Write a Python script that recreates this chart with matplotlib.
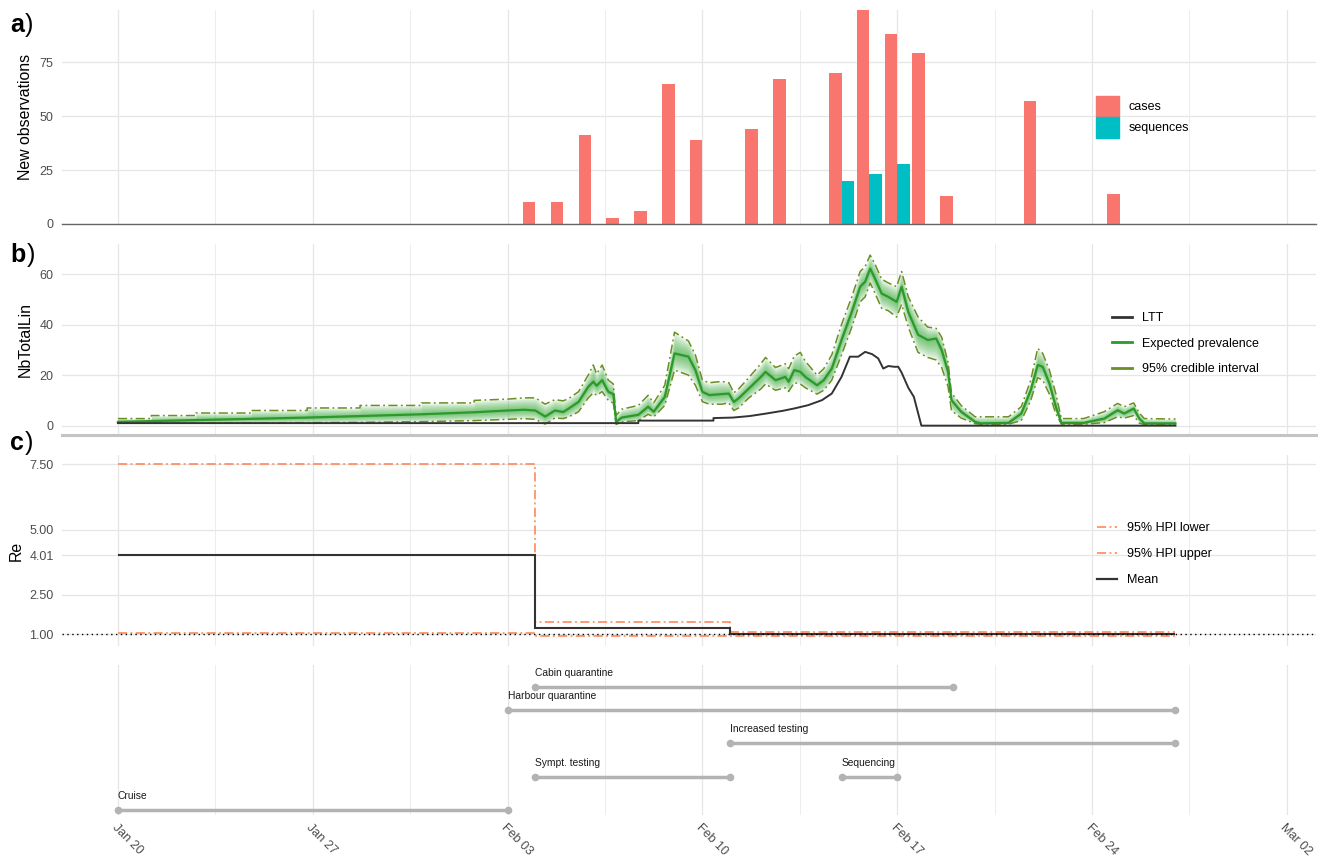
import numpy as np
import pandas as pd
import matplotlib
matplotlib.use("Agg")
import matplotlib.pyplot as plt
from matplotlib.patches import Patch
from matplotlib.lines import Line2D

plt.rcParams["font.family"] = ["Liberation Sans", "DejaVu Sans"]

T0 = pd.Timestamp("2020-01-20")


def days(dates):
    """Dates -> days since Jan 20."""
    return ((pd.to_datetime(dates) - T0) / pd.Timedelta(days=1)).to_numpy()


# ── a) new observations per day ─────────────────────────────────────────────
case_dates = ["2020-02-04", "2020-02-05", "2020-02-06", "2020-02-07", "2020-02-08",
              "2020-02-09", "2020-02-10", "2020-02-12", "2020-02-13", "2020-02-15",
              "2020-02-16", "2020-02-17", "2020-02-18", "2020-02-19", "2020-02-22",
              "2020-02-25"]
case_counts = [10, 10, 41, 3, 6, 65, 39, 44, 67, 70, 99, 88, 79, 13, 57, 14]
seq_dates = ["2020-02-15", "2020-02-16", "2020-02-17"]
seq_counts = [20, 23, 28]

# ── b) prevalence trajectory (days since Jan 20) ────────────────────────────
prev_t = [0.0, 1.2, 1.2, 2.8, 2.8, 4.8, 4.8, 6.8, 6.8, 8.7, 8.7, 10.9, 10.9, 12.8, 12.8,
          14.0, 14.6, 15.0, 15.35, 15.7, 16.0, 16.2, 16.55, 16.9, 17.08, 17.2, 17.4,
          17.62, 17.8, 17.9, 18.1, 18.7, 19.05, 19.25, 19.65, 20.0, 20.5, 20.75, 21.0,
          21.25, 21.7, 21.95, 22.13, 22.3, 22.67, 23.1, 23.27, 23.63, 23.98, 24.1, 24.3,
          24.52, 24.7, 25.12, 25.36, 25.65, 26.0, 26.37, 26.67, 26.85, 27.03, 27.2,
          27.44, 27.68, 27.98, 28.16, 28.4, 28.75, 29.1, 29.4, 29.6, 29.83, 29.95, 30.3,
          30.8, 31.0, 32.0, 32.46, 32.8, 33.05, 33.23, 33.47, 33.7, 33.9, 34.7, 35.44,
          35.92, 36.16, 36.5, 36.7, 36.88, 38.0]
prev_mean = [1.5, 1.8, 1.8, 2.2, 2.2, 2.7, 2.7, 3.2, 3.2, 3.8, 3.8, 4.5, 4.5, 5.3, 5.3,
             6.0, 6.3, 6.0, 3.6, 6.0, 5.4, 6.8, 9.4, 15.4, 17.4, 15.8, 18.0,
             13.4, 12.5, 1.5, 3.2, 4.3, 7.5, 5.5, 11.4, 28.6, 27.3, 22.0, 13.4,
             12.1, 12.5, 12.7, 9.4, 10.8, 14.7, 19.3, 21.3, 18.0, 19.3, 17.4, 22.0,
             21.3, 19.3, 16.0, 18.0, 22.6, 33.9, 45.1, 55.0, 57.0, 62.2, 58.3,
             52.3, 51.0, 49.0, 55.0, 45.0, 36.0, 33.9, 34.5, 29.9, 21.3, 10.1, 5.5,
             1.5, 0.9, 1.1, 4.8, 14.1, 24.0, 23.3, 16.7, 7.5, 1.1, 1.1, 2.8,
             6.1, 4.8, 6.8, 2.8, 0.9, 0.9]
prev_lo = [1.0, 1.0, 1.0, 1.0, 1.0, 1.1, 1.1, 1.2, 1.2, 1.3, 1.3, 1.6, 1.6, 2.0, 2.0,
           2.5, 2.8, 2.5, 0.6, 3.0, 2.8, 3.5, 5.5, 11.0, 13.0, 12.0, 13.5,
           10.0, 9.0, 0.5, 1.5, 2.0, 4.5, 3.5, 8.0, 22.0, 20.0, 16.0, 9.5,
           8.5, 8.5, 9.0, 6.0, 7.0, 11.0, 14.5, 16.5, 14.0, 15.0, 13.5, 17.0,
           16.5, 15.0, 12.5, 14.0, 18.0, 28.0, 39.0, 49.0, 51.0, 56.5, 52.5,
           46.5, 45.5, 43.0, 48.0, 39.0, 29.0, 27.0, 26.0, 23.0, 15.4, 6.0, 3.0,
           0.8, 0.6, 0.6, 2.0, 10.0, 19.0, 18.0, 12.5, 4.8, 0.6, 0.6, 1.2,
           3.5, 3.0, 4.0, 1.0, 0.5, 0.5]
prev_hi = [2.8, 2.8, 4.0, 4.0, 5.0, 5.0, 6.0, 6.0, 7.0, 7.0, 8.0, 8.0, 9.0, 9.0, 10.0,
           10.5, 11.0, 11.0, 8.5, 10.3, 9.8, 10.8, 13.4, 20.0, 24.0, 20.5, 24.0,
           18.0, 16.5, 4.0, 6.5, 8.0, 12.0, 9.0, 16.0, 37.0, 33.5, 28.0, 18.0,
           17.0, 17.5, 17.0, 13.0, 14.5, 19.0, 24.5, 27.0, 23.0, 24.5, 22.5, 27.5,
           29.0, 25.5, 20.0, 22.5, 28.0, 40.0, 51.0, 61.0, 63.0, 67.5, 64.0,
           58.0, 56.5, 55.0, 61.0, 51.0, 43.0, 39.0, 38.5, 35.0, 25.0, 13.0, 8.0,
           3.5, 3.5, 3.5, 7.5, 18.0, 30.6, 28.6, 22.0, 12.7, 2.8, 2.8, 5.5,
           8.8, 7.5, 9.0, 5.0, 2.8, 2.6]

ltt_t = [0.0, 18.7, 18.7, 21.4, 21.4, 22.1, 22.7, 23.3, 23.9, 24.3, 24.8, 25.3, 25.65,
         26.0, 26.3, 26.6, 26.85, 27.1, 27.32, 27.5, 27.68, 27.9, 28.04, 28.16, 28.4,
         28.6, 28.87, 38.0]
ltt_n = [1, 1, 2, 2, 3, 3.2, 3.8, 4.8, 5.9, 6.8, 8.1, 10.1, 12.7,
         19.3, 27.3, 27.3, 29.2, 28.3, 26.6, 22.6, 23.6, 23.3, 23.3, 21.0, 15.0,
         11.4, 0, 0]

# ── c) Re per interval ──────────────────────────────────────────────────────
re_edges = ["2020-01-20", "2020-02-04", "2020-02-11", "2020-02-27"]
re_mean = [4.01, 1.23, 1.00]
re_lower = [1.03, 0.95, 0.92]
re_upper = [7.50, 1.47, 1.08]
re_breaks = [1.00, 2.50, 4.01, 5.00, 7.50]

# ── timeline of events ──────────────────────────────────────────────────────
ev_names = ["Cruise", "Sympt. testing", "Sequencing", "Increased testing",
            "Harbour quarantine", "Cabin quarantine"]
ev_start = ["2020-01-20", "2020-02-04", "2020-02-15", "2020-02-11", "2020-02-03", "2020-02-04"]
ev_end = ["2020-02-03", "2020-02-11", "2020-02-17", "2020-02-27", "2020-02-27", "2020-02-19"]

tick_labels = ["Jan 20", "Jan 27", "Feb 03", "Feb 10", "Feb 17", "Feb 24", "Mar 02"]

# ── figure ──────────────────────────────────────────────────────────────────
W, H = 1319, 859
fig = plt.figure(figsize=(W / 100, H / 100), dpi=100)


def px_axes(top, bottom, left=62, right=1316):
    return fig.add_axes([left / W, 1 - bottom / H, (right - left) / W, (bottom - top) / H])


ax_a = px_axes(10, 224)
ax_b = px_axes(244, 435)
ax_c = px_axes(455, 646)
ax_d = px_axes(665, 815)

XLIM = (-2.01, 43.05)
TICK_COL = "#4D4D4D"
for ax in (ax_a, ax_b, ax_c, ax_d):
    ax.set_xlim(*XLIM)
    ax.set_xticks(np.arange(0, 43, 7))
    ax.set_xticks(np.arange(3.5, 43, 7), minor=True)
    ax.grid(True, which="major", color="#E6E6E6", lw=0.9)
    ax.grid(True, which="minor", axis="x", color="#EDEDED", lw=0.7)
    ax.set_axisbelow(True)
    for s in ax.spines.values():
        s.set_visible(False)
    ax.tick_params(which="both", length=0, labelsize=9, labelcolor=TICK_COL, pad=6)
    ax.tick_params(axis="x", labelbottom=False)

# a) bars, cases and sequences dodged within each day
ax_a.bar(days(case_dates) - 0.225, case_counts, width=0.45, color="#F8766D", lw=0)
ax_a.bar(days(seq_dates) + 0.225, seq_counts, width=0.45, color="#00BFC4", lw=0)
ax_a.set_ylim(0, 99.1)
ax_a.set_yticks([0, 25, 50, 75])
ax_a.spines["bottom"].set_visible(True)
ax_a.spines["bottom"].set_color("#666666")
ax_a.spines["bottom"].set_linewidth(1.0)
ax_a.set_ylabel("New observations", fontsize=11.4, labelpad=5)
ax_a.legend(handles=[Patch(color="#F8766D", label="cases"),
                     Patch(color="#00BFC4", label="sequences")],
            loc="upper left", bbox_to_anchor=(1096 / W, 1 - 96 / H),
            bbox_transform=fig.transFigure, frameon=False, fontsize=9,
            handlelength=1.85, handleheight=2.1, labelspacing=0.1,
            handletextpad=0.75, borderpad=0, borderaxespad=0)

# b) prevalence with shaded credible band
GREEN = "#2A9A2A"
CI_COL = "#6B8E23"
t = np.array(prev_t)
m = np.array(prev_mean)
lo = np.array(prev_lo)
hi = np.array(prev_hi)
n_bands = 8
for k in range(n_bands, 0, -1):
    f = k / n_bands
    ax_b.fill_between(t, m - f * (m - lo), m + f * (hi - m), color="#3DAA3D",
                      alpha=0.12, lw=0)
ci_dash = (0, (6, 2.2, 1.2, 2.2))
ax_b.plot(t, lo, color=CI_COL, lw=1.1, ls=ci_dash)
ax_b.plot(t, hi, color=CI_COL, lw=1.1, ls=ci_dash)
ax_b.plot(t, m, color=GREEN, lw=1.6)
ax_b.plot(ltt_t, ltt_n, color="#333333", lw=1.4)
ax_b.set_ylim(-3.7, 71.9)
ax_b.set_yticks([0, 20, 40, 60])
ax_b.spines["bottom"].set_visible(True)
ax_b.spines["bottom"].set_color("#C4C4C4")
ax_b.spines["bottom"].set_linewidth(2.2)
ax_b.set_ylabel("NbTotalLin", fontsize=11.4, labelpad=5)
ax_b.legend(handles=[Line2D([], [], color="#333333", lw=2, label="LTT"),
                     Line2D([], [], color=GREEN, lw=2, label="Expected prevalence"),
                     Line2D([], [], color=CI_COL, lw=2, label="95% credible interval")],
            loc="upper left", bbox_to_anchor=(1112 / W, 1 - 312 / H),
            bbox_transform=fig.transFigure, frameon=False, fontsize=9,
            handlelength=1.6, labelspacing=1.1, handletextpad=0.8,
            borderpad=0, borderaxespad=0)

# c) Re as step function
HPI_COL = "#FF7F50"
edges = days(re_edges)
hpi_dash = (0, (6, 2.2, 1.2, 2.2))
ax_c.axhline(1.0, color="black", lw=1.0, ls=(0, (1, 2.5)))
ax_c.stairs(re_lower, edges, baseline=None, color=HPI_COL, lw=1.1, ls=hpi_dash)
ax_c.stairs(re_upper, edges, baseline=None, color=HPI_COL, lw=1.1, ls=hpi_dash)
ax_c.stairs(re_mean, edges, baseline=None, color="#333333", lw=1.5)
ax_c.set_ylim(0.55, 7.85)
ax_c.set_yticks(re_breaks)
ax_c.set_yticklabels([f"{v:.2f}" for v in re_breaks])
ax_c.set_ylabel("Re", fontsize=11.4, labelpad=4)
ax_c.legend(handles=[Line2D([], [], color=HPI_COL, lw=1.1, ls=hpi_dash, label="95% HPI lower"),
                     Line2D([], [], color=HPI_COL, lw=1.1, ls=hpi_dash, label="95% HPI upper"),
                     Line2D([], [], color="#333333", lw=1.6, label="Mean")],
            loc="upper left", bbox_to_anchor=(1097 / W, 1 - 522 / H),
            bbox_transform=fig.transFigure, frameon=False, fontsize=9,
            handlelength=1.6, labelspacing=1.12, handletextpad=0.8,
            borderpad=0, borderaxespad=0)

# d) timeline of interventions
row_y = {"Cruise": 0, "Sympt. testing": 1, "Sequencing": 1, "Increased testing": 2,
         "Harbour quarantine": 3, "Cabin quarantine": 3.7}
SEG_COL = "#B3B3B3"
for name, s, e in zip(ev_names, days(ev_start), days(ev_end)):
    y = row_y[name]
    ax_d.plot([s, e], [y, y], color=SEG_COL, lw=2.5, solid_capstyle="butt")
    ax_d.plot([s, e], [y, y], "o", color=SEG_COL, ms=5.5, mew=0)
    ax_d.annotate(name, (s, y), xytext=(0, 6.5), textcoords="offset points",
                  ha="left", va="bottom", fontsize=7.4, color="#1A1A1A")
ax_d.set_ylim(-0.15, 4.35)
ax_d.set_yticks([])
ax_d.grid(False, axis="y")
ax_d.tick_params(axis="x", labelbottom=True, pad=5)
ax_d.set_xticklabels(tick_labels)
for lab in ax_d.get_xticklabels():
    lab.set_rotation(-45)
    lab.set_ha("left")
    lab.set_va("top")
    lab.set_rotation_mode("anchor")

# panel letters: bold letter, plain parenthesis
for letter, base in (("a", 32), ("b", 262), ("c", 450)):
    tl = fig.text(10 / W, 1 - base / H, letter, fontsize=18, fontweight="bold",
                  va="baseline", ha="left")
    ax_a.annotate(")", xy=(1, 0), xycoords=tl, xytext=(1, 0),
                  textcoords="offset points", fontsize=18, va="bottom", ha="left",
                  annotation_clip=False)

fig.savefig("out.png", dpi=100)
